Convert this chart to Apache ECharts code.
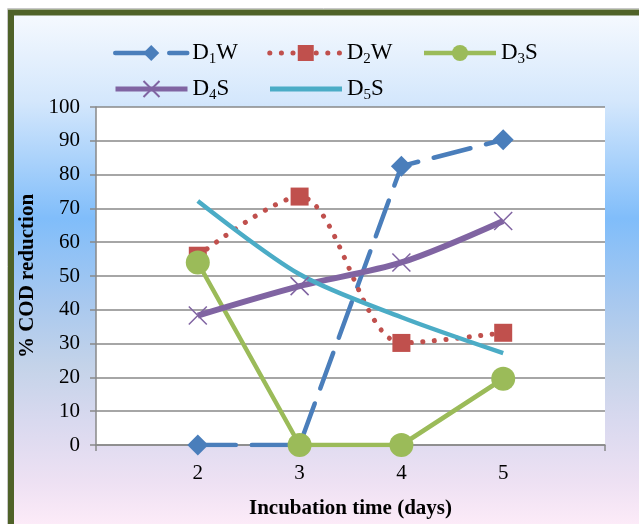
<!DOCTYPE html>
<html>
<head>
<meta charset="utf-8">
<script src="https://cdn.jsdelivr.net/npm/echarts@6/dist/echarts.min.js"></script>
<style>html,body{margin:0;padding:0;background:#fff;}#c{width:639px;height:524px;}</style>
</head>
<body>
<div id="c"></div>
<script>
const days = [2, 3, 4, 5];
const d1w = [0, 0, 82.5, 90.3];
const d2w = [56, 73.5, 30.2, 33.2];
const d3s = [54, 0, 0, 19.6];
const d4s = [38.3, 47, 54, 66.3];
const d5s = [72.2, 50.5, 37.8, 27.2];
const xTickLabels = [2, 3, 4, 5];
const seriesNames = ['D1W', 'D2W', 'D3S', 'D4S', 'D5S'];

const pairs = arr => days.map((d, i) => [d, arr[i]]);
const serif = '"Liberation Serif", "Times New Roman", serif';

const chart = echarts.init(document.getElementById('c'), null, {renderer: 'canvas'});

const legendText = {
  fontFamily: serif, fontSize: 23, color: '#000', lineHeight: 28, width: 50,
  rich: { s: { fontFamily: serif, fontSize: 15, lineHeight: 25, verticalAlign: 'bottom', color: '#000' } }
};
const legendFmt = n => 'D{s|' + n[1] + '}' + n.slice(2);

const legendData = [
  { name: 'D1W', lineStyle: { width: 4.5, type: [40, 14], cap: 'round' } },
  { name: 'D2W', lineStyle: { width: 5, type: [0.1, 11.5], cap: 'round' } },
  { name: 'D3S', lineStyle: { width: 4.5 } },
  { name: 'D4S', lineStyle: { width: 5 } },
  { name: 'D5S', lineStyle: { width: 5 }, itemStyle: { opacity: 0 } }
];

chart.setOption({
  animation: false,
  graphic: [
    { type: 'rect', z: -10, silent: true,
      shape: { x: 7.5, y: 8.5, width: 700, height: 600 },
      style: { fill: 'none', stroke: '#c8c8c8', lineWidth: 1 } },
    { type: 'rect', z: -9, silent: true,
      shape: { x: 11, y: 12.5, width: 700, height: 600 },
      style: {
        fill: new echarts.graphic.LinearGradient(0, 15, 0, 524, [
          { offset: 0, color: '#f5f9fe' },
          { offset: 0.17, color: '#d4e7fc' },
          { offset: 0.40, color: '#80bdfa' },
          { offset: 0.56, color: '#a7c8ef' },
          { offset: 0.69, color: '#c4d3e9' },
          { offset: 0.80, color: '#d9d9ef' },
          { offset: 0.92, color: '#eee1f3' },
          { offset: 1, color: '#fcebf8' }
        ], true),
        stroke: '#4f6228', lineWidth: 6
      } }
  ],
  legend: [
    { data: legendData.slice(0, 3), left: 108, top: 34, itemWidth: 72, itemHeight: 20, itemGap: 25,
      textStyle: legendText, formatter: legendFmt },
    { data: legendData.slice(3), left: 108, top: 70, itemWidth: 72, itemHeight: 20, itemGap: 25,
      textStyle: legendText, formatter: legendFmt }
  ],
  grid: { left: 96, right: 34, top: 107, bottom: 78, show: true, backgroundColor: '#ffffff', borderWidth: 0, containLabel: false },
  xAxis: {
    type: 'value', min: 1, max: 6, interval: 1,
    name: 'Incubation time (days)', nameLocation: 'middle', nameGap: 53,
    nameTextStyle: { fontFamily: serif, fontSize: 21, fontWeight: 'bold', color: '#000' },
    axisLine: { show: true, lineStyle: { color: '#898989', width: 1.5 } },
    axisTick: { show: true, length: 6, customValues: [1, 6], lineStyle: { color: '#898989', width: 1.5 } },
    axisLabel: { customValues: xTickLabels, fontFamily: serif, fontSize: 21, color: '#000', margin: 18 },
    splitLine: { show: false }
  },
  yAxis: {
    type: 'value', min: 0, max: 100, interval: 10,
    name: '% COD reduction', nameLocation: 'middle', nameGap: 55,
    nameTextStyle: { fontFamily: serif, fontSize: 21, fontWeight: 'bold', color: '#000' },
    axisLine: { show: true, lineStyle: { color: '#898989', width: 1.5 } },
    axisTick: { show: true, length: 6, lineStyle: { color: '#898989', width: 1.5 } },
    axisLabel: { fontFamily: serif, fontSize: 21, color: '#000', margin: 16 },
    splitLine: { show: true, lineStyle: { color: '#898989', width: 1.5 } }
  },
  series: [
    { name: 'D1W', type: 'line', data: pairs(d1w), symbol: 'diamond', symbolSize: 21,
      itemStyle: { color: '#4a7ebb' },
      lineStyle: { color: '#4a7ebb', width: 4.5, type: [38, 16], cap: 'round' } },
    { name: 'D2W', type: 'line', data: pairs(d2w), symbol: 'rect', symbolSize: 18, smooth: 0.3,
      itemStyle: { color: '#c0504d' },
      lineStyle: { color: '#c0504d', width: 5, type: [0.1, 11.5], cap: 'round' } },
    { name: 'D3S', type: 'line', data: pairs(d3s), symbol: 'circle', symbolSize: 24,
      itemStyle: { color: '#9bbb59' },
      lineStyle: { color: '#9bbb59', width: 4.5 } },
    { name: 'D4S', type: 'line', data: pairs(d4s), symbol: 'path://M0,0 L10,10 M10,0 L0,10', symbolSize: 18, smooth: 0.3,
      itemStyle: { color: '#8064a2', borderColor: '#8064a2', borderWidth: 1.5 },
      lineStyle: { color: '#8064a2', width: 6 } },
    { name: 'D5S', type: 'line', data: pairs(d5s), symbol: 'none', smooth: 0.3,
      itemStyle: { color: '#4bacc6' },
      lineStyle: { color: '#4bacc6', width: 4.5 } }
  ]
});
</script>
</body>
</html>
